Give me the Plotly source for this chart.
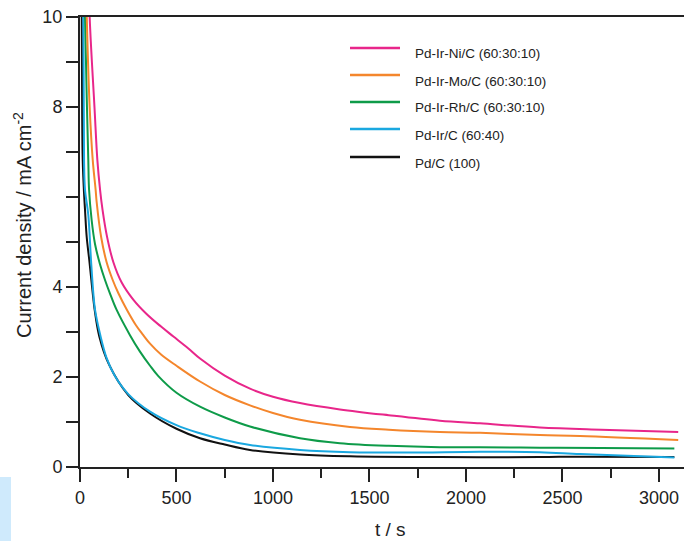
import plotly.graph_objects as go

# ---- data ----
t_ni = [30, 50, 75, 90, 104, 117, 140, 173, 216, 276, 345, 420, 484, 560, 622, 750, 881, 1000, 1140, 1347, 1600, 1865, 2073, 2383, 2700, 3100]
v_ni = [13, 10, 8, 6.82, 6.16, 5.71, 5.12, 4.55, 4.1, 3.72, 3.4, 3.12, 2.9, 2.64, 2.41, 2.03, 1.74, 1.56, 1.42, 1.28, 1.15, 1.03, 0.97, 0.88, 0.83, 0.78]

t_mo = [20, 35, 50, 66, 81, 86, 110, 138, 170, 199, 242, 290, 328, 363, 420, 500, 622, 750, 881, 1000, 1140, 1399, 1600, 1865, 2073, 2383, 2591, 3100]
v_mo = [13, 10, 8, 6.82, 6.16, 5.9, 5.1, 4.55, 4.15, 3.86, 3.5, 3.15, 2.93, 2.74, 2.5, 2.25, 1.9, 1.6, 1.37, 1.2, 1.05, 0.89, 0.83, 0.78, 0.76, 0.71, 0.69, 0.6]

t_rh = [10, 26, 35, 43, 47, 60, 78, 104, 130, 155, 190, 259, 310, 363, 406, 500, 622, 750, 881, 1140, 1347, 1600, 1865, 2073, 2383, 2700, 3080]
v_rh = [13, 10, 8.2, 6.82, 6.16, 5.5, 4.95, 4.5, 4.15, 3.86, 3.49, 2.93, 2.57, 2.25, 2.02, 1.65, 1.34, 1.1, 0.9, 0.64, 0.53, 0.47, 0.44, 0.44, 0.43, 0.42, 0.41]

t_ir = [5, 17, 21, 26, 43, 57, 69, 78, 104, 138, 181, 250, 363, 500, 622, 750, 881, 1140, 1399, 1700, 2073, 2383, 2591, 3080]
v_ir = [13, 10, 6.82, 6.16, 5.6, 4.6, 3.86, 3.49, 2.95, 2.42, 2.02, 1.62, 1.23, 0.93, 0.75, 0.6, 0.49, 0.38, 0.33, 0.32, 0.34, 0.33, 0.29, 0.21]

t_pd = [3, 9, 14, 22, 26, 35, 48, 66, 76, 100, 150, 250, 363, 500, 622, 750, 881, 1140, 1399, 1865, 2383, 2591, 3080]
v_pd = [13, 10, 6.82, 6.0, 5.71, 5.1, 4.6, 3.86, 3.49, 2.9, 2.28, 1.6, 1.19, 0.85, 0.64, 0.5, 0.38, 0.28, 0.24, 0.22, 0.22, 0.23, 0.22]

names = ["Pd-Ir-Ni/C (60:30:10)", "Pd-Ir-Mo/C (60:30:10)", "Pd-Ir-Rh/C (60:30:10)", "Pd-Ir/C (60:40)", "Pd/C (100)"]
colors = ["#e8268a", "#f4862c", "#0e9b49", "#1aa8e0", "#111111"]
series_t = [t_ni, t_mo, t_rh, t_ir, t_pd]
series_v = [v_ni, v_mo, v_rh, v_ir, v_pd]

y_tickvals = [0, 2, 4, 8, 10]
x_tickvals = [0, 500, 1000, 1500, 2000, 2500, 3000]

FONT = "Liberation Sans, Arial, sans-serif"
AX = "#222222"

fig = go.Figure()
for t, v, n, c in zip(series_t[::-1], series_v[::-1], names[::-1], colors[::-1]):
    fig.add_trace(go.Scatter(x=t, y=v, mode="lines", name=n,
                             line=dict(color=c, width=2, shape="spline", smoothing=1.0),
                             showlegend=False, hoverinfo="skip"))

fig.update_layout(
    width=684, height=541,
    margin=dict(l=80, r=0, t=17, b=74),
    paper_bgcolor="white", plot_bgcolor="white",
    font=dict(family=FONT, size=18, color=AX),
    showlegend=False,
)
fig.update_xaxes(
    range=[0, 3130], showgrid=False, zeroline=False,
    showline=True, linecolor=AX, linewidth=2, mirror=True,
    tickmode="array", tickvals=x_tickvals,
    ticks="outside", ticklen=13, tickwidth=2, tickcolor=AX,
    tickfont=dict(size=18, color=AX),
    minor=dict(dtick=250, tick0=0, ticks="outside", ticklen=9, tickwidth=2, tickcolor=AX),
)
fig.update_yaxes(
    range=[0, 10], showgrid=False, zeroline=False,
    showline=True, linecolor=AX, linewidth=2,
    tickmode="array", tickvals=y_tickvals,
    ticks="outside", ticklen=12, tickwidth=2, tickcolor=AX,
    tickfont=dict(size=18, color=AX),
    minor=dict(dtick=1, tick0=0, ticks="outside", ticklen=12, tickwidth=2, tickcolor=AX),
)

# axis titles
fig.add_annotation(text="Current density / mA cm<sup>-2</sup>", textangle=-90,
                   xref="paper", yref="paper", x=(22 - 80) / 604, y=(467 - 225) / 450,
                   xanchor="center", yanchor="middle", showarrow=False,
                   font=dict(size=20, color=AX, family=FONT))
fig.add_annotation(text="t / s", xref="paper", yref="paper",
                   x=(390 - 80) / 604, y=(467 - 529) / 450,
                   xanchor="center", yanchor="middle", showarrow=False,
                   font=dict(size=19, color=AX, family=FONT))

# manual legend
line_py = [48, 75, 102, 129, 157]
for py, n, c in zip(line_py, names, colors):
    yp = (467 - py) / 450
    fig.add_shape(type="line", xref="paper", yref="paper",
                  x0=(350 - 80) / 604, x1=(400 - 80) / 604, y0=yp, y1=yp,
                  line=dict(color=c, width=2.5))
    fig.add_annotation(text=n, xref="paper", yref="paper",
                       x=(413 - 80) / 604, y=(467 - py - 6) / 450,
                       xanchor="left", yanchor="middle", showarrow=False,
                       font=dict(size=13.5, color=AX, family=FONT))

# light blue patch at bottom-left corner
fig.add_shape(type="rect", xref="paper", yref="paper",
              x0=-80 / 604, x1=(11 - 80) / 604, y0=(467 - 545) / 450, y1=(467 - 477) / 450,
              line=dict(width=0), fillcolor="#cfeafc", layer="below")

fig.write_html("out.html")
